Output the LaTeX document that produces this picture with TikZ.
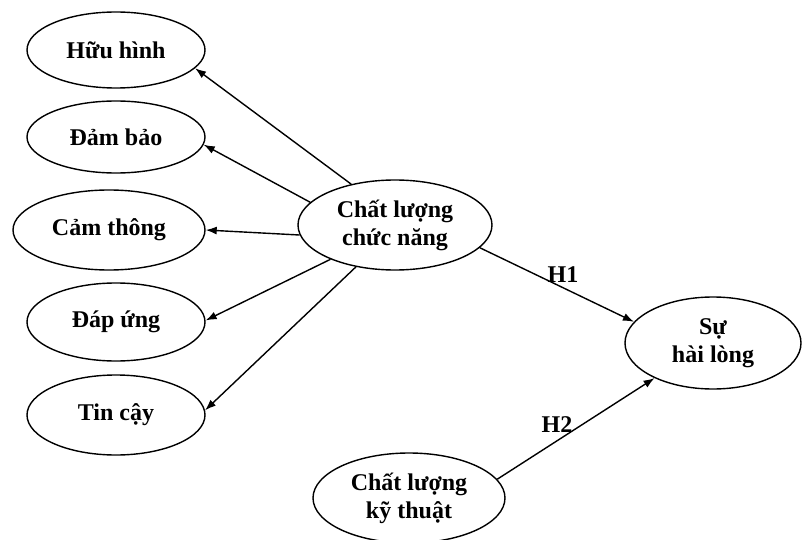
\documentclass[tikz,border=0pt]{standalone}
\usepackage{fontspec}
\setmainfont{Liberation Serif}
\usetikzlibrary{shapes.geometric,arrows.meta}
\begin{document}
\begin{tikzpicture}[x=1pt,y=-1pt,
  oval/.style={draw=black, line width=1.4pt, ellipse, inner sep=0pt, align=center,
    font=\fontsize{24}{28}\selectfont\bfseries},
  arr/.style={draw=black, line width=1.4pt, -{Latex[length=11pt,width=8pt]}},
  lbl/.style={font=\fontsize{24}{28}\selectfont\bfseries, inner sep=0pt}]
\useasboundingbox[fill=white] (0,0) rectangle (803,540);
\node[oval, minimum width=178pt, minimum height=76pt] (h) at (116,50) {Hữu hình};
\node[oval, minimum width=178pt, minimum height=72pt] (d) at (116,137) {Đảm bảo};
\node[oval, minimum width=192pt, minimum height=80pt] (cam) at (109,230) {Cảm thông};
\node[oval, minimum width=178pt, minimum height=78pt] (du) at (116,322) {Đáp ứng};
\node[oval, minimum width=178pt, minimum height=80pt] (t) at (116,415) {Tin cậy};
\node[oval, minimum width=194pt, minimum height=90pt] (c) at (395,225) {Chất lượng\\chức năng};
\node[oval, minimum width=176pt, minimum height=92pt] (s) at (713,343) {Sự\\hài lòng};
\node[oval, minimum width=192pt, minimum height=90pt] (k) at (409,498) {Chất lượng\\kỹ thuật};
\draw[arr] (c.137) -- (h.-13);
\draw[arr] (c.165) -- (d.-5);
\draw[arr] (c.186) -- (cam.0);
\draw[arr] (c.208) -- (du.1);
\draw[arr] (c.227) -- (t.3);
\draw[arr] (c.-15) -- (s.165);
\draw[arr] (k.12) -- (s.211);
\node[lbl] (h1) at (563,275) {H1};
\node[lbl] (h2) at (557,425) {H2};
\end{tikzpicture}
\end{document}
